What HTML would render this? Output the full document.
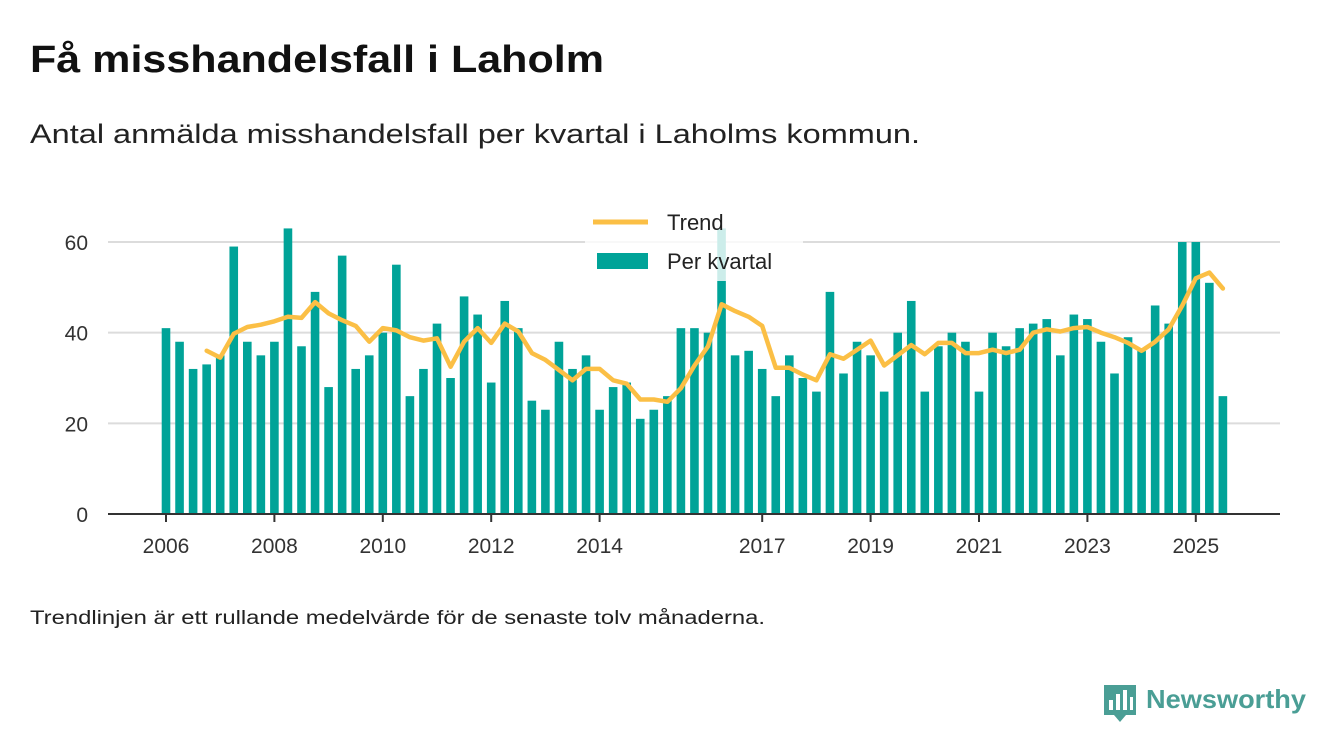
<!DOCTYPE html>
<html><head><meta charset="utf-8"><style>
html,body{margin:0;padding:0;background:#fff;}
svg{display:block;font-family:"Liberation Sans","DejaVu Sans",sans-serif;}
</style></head><body>
<svg id="chart" width="1340" height="753" viewBox="0 0 1340 753">
<text x="30" y="72" font-size="38" font-weight="bold" fill="#111" textLength="574" lengthAdjust="spacingAndGlyphs">Få misshandelsfall i Laholm</text>
<text x="30" y="143" font-size="27" fill="#222" textLength="890" lengthAdjust="spacingAndGlyphs">Antal anmälda misshandelsfall per kvartal i Laholms kommun.</text>
<g id="grid"></g>
<g id="bars"></g>
<g id="trend"></g>
<g id="axes"></g>
<g>
<rect x="585" y="205" width="218" height="76" fill="#fff" fill-opacity="0.8"/>
<line x1="593" y1="222" x2="648" y2="222" stroke="#fbbf45" stroke-width="5"/>
<text x="667" y="230" font-size="22" fill="#222">Trend</text>
<rect x="597" y="253" width="51" height="16" fill="#00a398"/>
<text x="667" y="269" font-size="22" fill="#222">Per kvartal</text>
</g>
<text x="30" y="624" font-size="19" fill="#222" textLength="735" lengthAdjust="spacingAndGlyphs">Trendlinjen är ett rullande medelvärde för de senaste tolv månaderna.</text>
<g>
<path d="M1104 685 h32 v30 h-10 l-6 7 l-6 -7 h-10 z" fill="#4a9e95"/>
<rect x="1109" y="700" width="4" height="10" fill="#fff"/><rect x="1116" y="694" width="4" height="16" fill="#fff"/><rect x="1123" y="690" width="4" height="20" fill="#fff"/><rect x="1130" y="697" width="3" height="13" fill="#fff"/>
<text x="1146" y="708" font-size="26" font-weight="bold" fill="#4a9e95" textLength="160" lengthAdjust="spacingAndGlyphs">Newsworthy</text>
</g>
</svg>
<script>
const quarterValues = [41,38,32,33,35,59,38,35,38,63,37,49,28,57,32,35,40,55,26,32,42,30,48,44,29,47,41,25,23,38,32,35,23,28,29,21,23,26,41,41,40,63,35,36,32,26,35,30,27,49,31,38,35,27,40,47,27,37,40,38,27,40,37,41,42,43,35,44,43,38,31,39,36,46,42,60,60,51,26];
const trendValues = [36,34.5,39.75,41.25,41.75,42.5,43.5,43.25,46.75,44.25,42.75,41.5,38,41,40.5,39,38.25,38.75,32.5,38,41,37.75,42,40.25,35.5,34,31.75,29.5,32,32,29.5,28.75,25.25,25.25,24.75,27.75,32.75,37,46.25,44.75,43.5,41.5,32.25,32.25,30.75,29.5,35.25,34.25,36.25,38.25,32.75,35,37.25,35.25,37.75,37.75,35.5,35.5,36.25,35.5,36.25,40,40.75,40.25,41,41.25,40,39,37.75,36,38,40.75,46,52,53.25,49.75];
const trendStart = 3;
const startYear = 2006;
const xTickYears = [2006,2008,2010,2012,2014,2017,2019,2021,2023,2025];
const yTicks = [0,20,40,60];
const NS="http://www.w3.org/2000/svg";
const x = i => 166 + i*13.55;
const y = v => 514 - v*4.533;
function mk(tag, attrs, parent){const e=document.createElementNS(NS,tag);for(const k in attrs)e.setAttribute(k,attrs[k]);parent.appendChild(e);return e;}
const grid=document.getElementById('grid'), bars=document.getElementById('bars'), trend=document.getElementById('trend'), axes=document.getElementById('axes');
yTicks.forEach(t=>{
  if(t>0){const l=mk('line',{x1:108,x2:1280,y1:y(t),y2:y(t),stroke:'#dcdcdc','stroke-width':2},grid);
  
  }
  const tx=mk('text',{x:88,y:y(t)+8,'font-size':21,fill:'#333','text-anchor':'end'},axes);
  tx.textContent=t;
  
  
});
quarterValues.forEach((v,i)=>{
  const r=mk('rect',{x:x(i)-4.3,y:y(v),width:8.6,height:514-y(v),fill:'#00a398'},bars);
  
  
});
const pts=trendValues.map((v,k)=>x(k+trendStart).toFixed(1)+','+y(v).toFixed(1)).join(' ');
const pl=mk('polyline',{points:pts,fill:'none',stroke:'#fbbf45','stroke-width':4.5,'stroke-linejoin':'round','stroke-linecap':'round'},trend);


const ax=mk('line',{x1:108,x2:1280,y1:514,y2:514,stroke:'#333','stroke-width':2},axes);


xTickYears.forEach(yr=>{
  const xi=x((yr-startYear)*4);
  const tk=mk('line',{x1:xi,x2:xi,y1:514,y2:522,stroke:'#333','stroke-width':2},axes);
  
  
  const tx=mk('text',{x:xi,y:553,'font-size':21,fill:'#333','text-anchor':'middle'},axes);
  tx.textContent=yr;
  
  
});
</script>
</body></html>
